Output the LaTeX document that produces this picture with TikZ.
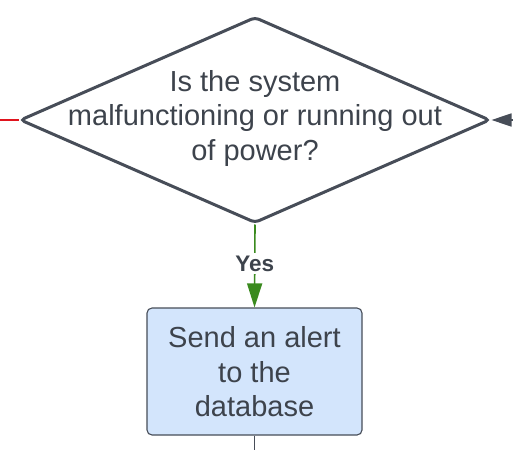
\documentclass[tikz,border=0pt]{standalone}
\usepackage{fontspec}
\setmainfont{Liberation Sans}
\usetikzlibrary{shapes.geometric,arrows.meta}
\definecolor{edgegray}{HTML}{474D58}
\definecolor{txtgray}{HTML}{3D434C}
\definecolor{boxblue}{HTML}{D3E5FC}
\definecolor{yesgreen}{HTML}{3A8A1E}
\definecolor{linered}{HTML}{E0141E}
\tikzset{
  decision/.style={diamond, draw=edgegray, line width=3pt, rounded corners=4pt,
    minimum width=470pt, minimum height=206pt, inner sep=0pt, aspect=2.28},
  maintext/.style={align=center, text=txtgray, font=\fontsize{29}{34.6}\selectfont, inner sep=0pt},
  processbox/.style={draw=edgegray, line width=1.1pt, fill=boxblue, rounded corners=5pt,
    minimum width=215pt, minimum height=127pt, inner sep=0pt},
  yeslabel/.style={fill=white, text=txtgray, font=\fontsize{22.5}{25}\selectfont\bfseries, inner sep=3pt},
}
\begin{document}
\begin{tikzpicture}[x=1pt,y=-1pt]
\useasboundingbox (0,0) rectangle (513,449);
\node[decision] (d) at (255,120) {};
\node[maintext] (dt) at (255,118.5) {Is the system\\malfunctioning or running out\\of power?};
\node[processbox] (b) at (254.5,371.5) {};
\node[maintext] (bt) at (254.5,372) {Send an alert\\to the\\database};
\coordinate (lin) at (-5,120);
\coordinate (rin) at (525,120);
\coordinate (bout) at (254.5,460);
\draw[linered, line width=1.6pt] (lin) -- (d.west);
\draw[edgegray, line width=1.6pt, -{Triangle[length=20pt,width=13pt]}] (rin) -- (d.east);
\draw[yesgreen, line width=1.6pt, -{Triangle[length=24pt,width=15pt]}] (d.south) -- node[yeslabel, pos=0.47] (yes) {Yes} (b.north);
\draw[edgegray, line width=1.4pt] (b.south) -- (bout);
\end{tikzpicture}
\end{document}
